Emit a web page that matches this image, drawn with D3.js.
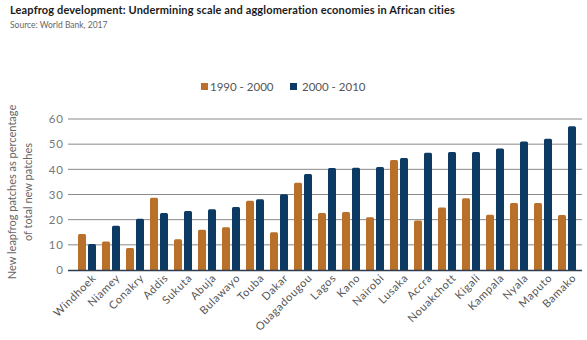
<!DOCTYPE html>
<html>
<head>
<meta charset="utf-8">
<script src="https://cdn.jsdelivr.net/npm/d3@7"></script>
<style>
  html, body { margin: 0; padding: 0; background: #fff; }
  svg { display: block; font-family: Lato, "Open Sans", sans-serif; }
</style>
</head>
<body>
<div id="grafico"></div>
<script>
// Cidades e valores (% de novos patches "leapfrog")
const cidades = ['Windhoek', 'Niamey', 'Conakry', 'Addis', 'Sukuta', 'Abuja', 'Bulawayo', 'Touba', 'Dakar',
  'Ouagadougou', 'Lagos', 'Kano', 'Nairobi', 'Lusaka', 'Accra', 'Nouakchott', 'Kigali', 'Kampala', 'Nyala',
  'Maputo', 'Bamako'];
const periodos = ['1990 - 2000', '2000 - 2010'];
const valores1990 = [14.3, 11.3, 8.7, 28.7, 12.2, 16.0, 17.0, 27.5, 15.0, 34.7, 22.6, 23.0, 21.0, 43.7, 19.7,
  24.8, 28.5, 22.0, 26.6, 26.6, 21.9];
const valores2000 = [10.3, 17.6, 20.4, 22.6, 23.4, 24.1, 25.0, 28.1, 30.1, 38.1, 40.5, 40.6, 40.9, 44.5, 46.6,
  46.9, 46.9, 48.3, 51.1, 52.2, 57.1];
const ticksY = [0, 10, 20, 30, 40, 50, 60];
const cores = ['#b8702a', '#0d3a62'];

const largura = 587, altura = 340;
const dados = cidades.map((c, i) => ({ cidade: c, valores: [valores1990[i], valores2000[i]] }));

const svg = d3.select('#grafico').append('svg')
  .attr('width', largura)
  .attr('height', altura);

// Título e fonte
svg.append('text')
  .attr('x', 10).attr('y', 14)
  .style('font-size', '11px').style('font-weight', 'bold').style('fill', '#1a1a1a')
  .style('letter-spacing', '0.15px')
  .text('Leapfrog development: Undermining scale and agglomeration economies in African cities');
svg.append('text')
  .attr('x', 10).attr('y', 28)
  .style('font-size', '8.5px').style('fill', '#666')
  .text('Source: World Bank, 2017');

// Escalas
const x = d3.scaleBand()
  .domain(cidades)
  .range([75, 579]);

const x1 = d3.scaleBand()
  .domain([0, 1])
  .range([3, 21])
  .paddingInner(0.2);

const y = d3.scaleLinear()
  .domain([0, 60])
  .range([270, 119]);

// Linhas de grade
svg.append('g')
  .selectAll('line')
  .data(ticksY.filter(t => t > 0))
  .join('line')
  .attr('x1', 68).attr('x2', 582)
  .attr('y1', d => y(d)).attr('y2', d => y(d))
  .attr('stroke', '#8a8a8a')
  .attr('stroke-width', 1);

// Eixo Y (só os rótulos)
const eixoY = svg.append('g')
  .attr('transform', 'translate(64,0)')
  .call(d3.axisLeft(y).tickValues(ticksY).tickSize(0).tickPadding(0));
eixoY.select('.domain').remove();
eixoY.selectAll('text')
  .style('font-family', 'Lato, "Open Sans", sans-serif')
  .style('font-size', '11.5px')
  .style('letter-spacing', '1px')
  .style('fill', '#777');

// Barras
const grupos = svg.append('g')
  .selectAll('g')
  .data(dados)
  .join('g')
  .attr('transform', d => `translate(${x(d.cidade)},0)`);

grupos.selectAll('path')
  .data(d => d.valores.map((v, k) => ({ v, k })))
  .join('path')
  .attr('fill', d => cores[d.k])
  .attr('d', d => {
    const x0 = x1(d.k), w = x1.bandwidth(), r = 1.5;
    const yt = y(d.v), yb = y(0);
    return `M${x0},${yb}V${yt + r}Q${x0},${yt} ${x0 + r},${yt}H${x0 + w - r}Q${x0 + w},${yt} ${x0 + w},${yt + r}V${yb}Z`;
  });

// Linha de base
svg.append('line')
  .attr('x1', 68).attr('x2', 582)
  .attr('y1', y(0) + 0.5).attr('y2', y(0) + 0.5)
  .attr('stroke', '#2c3e50')
  .attr('stroke-width', 1.5);

// Eixo X com rótulos inclinados
const eixoX = svg.append('g')
  .attr('transform', `translate(0,${y(0) + 6})`)
  .call(d3.axisBottom(x).tickSize(0).tickPadding(0));
eixoX.select('.domain').remove();
eixoX.selectAll('text')
  .style('font-family', 'Lato, "Open Sans", sans-serif')
  .style('font-size', '11px')
  .style('letter-spacing', '0.6px')
  .style('fill', '#555')
  .attr('text-anchor', 'end')
  .attr('dy', '0.35em')
  .attr('transform', 'translate(7,0) rotate(-45)');

// Título do eixo Y
const tituloY = svg.append('text')
  .attr('transform', 'translate(0,192) rotate(-90)')
  .attr('text-anchor', 'middle')
  .style('font-size', '11px')
  .style('fill', '#666');
tituloY.append('tspan').attr('x', 0).attr('y', 16).text('New leapfrog patches as percentage');
tituloY.append('tspan').attr('x', 0).attr('y', 32).text('of total new patches');

// Legenda
const legenda = svg.append('g')
  .selectAll('g')
  .data(periodos)
  .join('g')
  .attr('transform', (d, i) => `translate(${i === 0 ? 201 : 290},83)`);
legenda.append('rect')
  .attr('width', 7).attr('height', 7)
  .attr('fill', (d, i) => cores[i]);
legenda.append('text')
  .attr('x', (d, i) => i === 0 ? 9 : 12)
  .attr('y', 7.5)
  .style('font-size', '11.5px')
  .style('fill', '#555')
  .text(d => d);
</script>
</body>
</html>
